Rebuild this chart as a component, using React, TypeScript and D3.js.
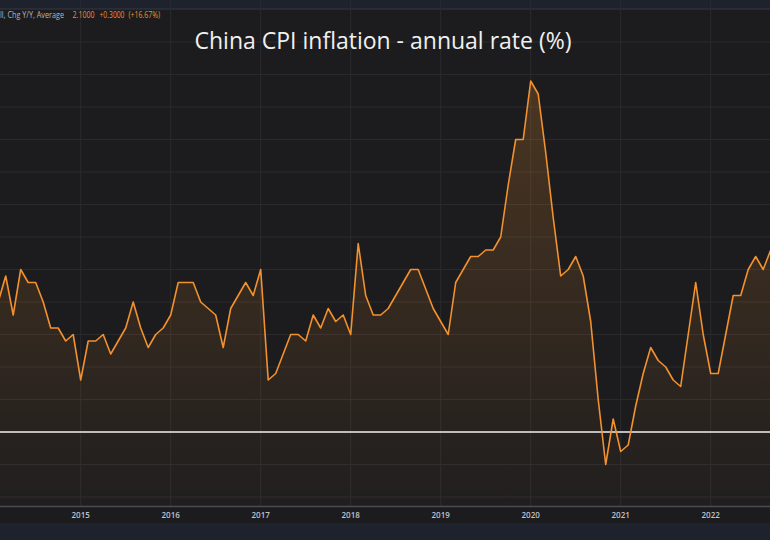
import React from "react";
import * as d3 from "d3";

// ---- data (monthly China CPI y/y, %) ----
const startYear = 2014; // first value = Jan 2014
const cpiValues: number[] = [
  // 2014
  2.5, 2.0, 2.4, 1.8, 2.5, 2.3, 2.3, 2.0, 1.6, 1.6, 1.4, 1.5,
  // 2015
  0.8, 1.4, 1.4, 1.5, 1.2, 1.4, 1.6, 2.0, 1.6, 1.3, 1.5, 1.6,
  // 2016
  1.8, 2.3, 2.3, 2.3, 2.0, 1.9, 1.8, 1.3, 1.9, 2.1, 2.3, 2.1,
  // 2017
  2.5, 0.8, 0.9, 1.2, 1.5, 1.5, 1.4, 1.8, 1.6, 1.9, 1.7, 1.8,
  // 2018
  1.5, 2.9, 2.1, 1.8, 1.8, 1.9, 2.1, 2.3, 2.5, 2.5, 2.2, 1.9,
  // 2019
  1.7, 1.5, 2.3, 2.5, 2.7, 2.7, 2.8, 2.8, 3.0, 3.8, 4.5, 4.5,
  // 2020
  5.4, 5.2, 4.3, 3.3, 2.4, 2.5, 2.7, 2.4, 1.7, 0.5, -0.5, 0.2,
  // 2021
  -0.3, -0.2, 0.4, 0.9, 1.3, 1.1, 1.0, 0.8, 0.7, 1.5, 2.3, 1.5,
  // 2022
  0.9, 0.9, 1.5, 2.1, 2.1, 2.5, 2.7, 2.5, 2.8,
];
const yearTicks: string[] = ["2015", "2016", "2017", "2018", "2019", "2020", "2021", "2022"];
const gridValues: number[] = [-1, -0.5, 0, 0.5, 1, 1.5, 2, 2.5, 3, 3.5, 4, 4.5, 5, 5.5, 6, 6.5];
const titleText = "China CPI inflation - annual rate (%)";
const legendLabel = "ll, Chg Y/Y, Average";
const legendValues: string[] = ["2.1000", "+0.3000", "(+16.67%)"];

const W = 770;
const H = 540;
const plotTop = 8;
const plotBottom = 506;

export default function App() {
  // month index (0 = Jan 2014) -> x
  const x = d3.scaleLinear().domain([12, 108]).range([80.7, 800.7]);
  const y = d3.scaleLinear().domain([-1, 6.5]).range([497, 9.5]);

  const pts = cpiValues.map((v, i) => [i, v] as [number, number]);
  const line = d3
    .line<[number, number]>()
    .x((d) => x(d[0]))
    .y((d) => y(d[1]));
  const area = d3
    .area<[number, number]>()
    .x((d) => x(d[0]))
    .y0(plotBottom)
    .y1((d) => y(d[1]));

  const orange = "#f2912d";
  const legendOrange = "#e99433";
  const font = "'Open Sans', 'Noto Sans', sans-serif";

  const legendParts = [
    { t: legendLabel, x: 0, w: 64, c: "#b2b5be" },
    { t: legendValues[0], x: 72.5, w: 22, c: legendOrange },
    { t: legendValues[1], x: 99.5, w: 25, c: legendOrange },
    { t: legendValues[2], x: 128.5, w: 31.5, c: legendOrange },
  ];

  return (
    <svg
      width={W}
      height={H}
      style={{ position: "fixed", left: 0, top: 0, display: "block" }}
    >
      <defs>
        <linearGradient id="fillGrad" gradientUnits="userSpaceOnUse" x1="0" y1="80" x2="0" y2={plotBottom}>
          <stop offset="0" stopColor={orange} stopOpacity={0.22} />
          <stop offset="1" stopColor={orange} stopOpacity={0.02} />
        </linearGradient>
        <clipPath id="plotClip">
          <rect x={0} y={plotTop} width={W} height={plotBottom - plotTop} />
        </clipPath>
      </defs>
      {/* backgrounds */}
      <rect x={0} y={0} width={W} height={H} fill="#1c1c1e" />
      <rect x={0} y={0} width={W} height={plotTop} fill="#1e222d" />
      <line x1={0} x2={W} y1={plotTop + 0.5} y2={plotTop + 0.5} stroke="#2a2d35" />
      <rect x={0} y={523} width={W} height={H - 523} fill="#1e222d" />

      {/* grid */}
      <g clipPath="url(#plotClip)">
        {gridValues.map((v) => (
          <line key={"h" + v} x1={0} x2={W} y1={y(v)} y2={y(v)} stroke="#2a2a2d" strokeWidth={1} />
        ))}
        {yearTicks.map((t, k) => (
          <line key={"v" + t} x1={x(12 + 12 * k)} x2={x(12 + 12 * k)} y1={plotTop} y2={plotBottom} stroke="#2a2a2d" strokeWidth={1} />
        ))}
      </g>
      {/* top strip grid continuation */}
      {yearTicks.map((t, k) => (
        <line key={"vt" + t} x1={x(12 + 12 * k)} x2={x(12 + 12 * k)} y1={0} y2={plotTop} stroke="#262a35" strokeWidth={1} />
      ))}

      <g clipPath="url(#plotClip)">
        <path d={area(pts) || ""} fill="url(#fillGrad)" />
        <line x1={0} x2={W} y1={y(0)} y2={y(0)} stroke="#f0f0f0" strokeWidth={1.6} />
        <path d={line(pts) || ""} fill="none" stroke={orange} strokeWidth={1.6} strokeLinejoin="round" />
      </g>

      {/* x axis */}
      <line x1={0} x2={W} y1={plotBottom + 0.5} y2={plotBottom + 0.5} stroke="#4a4c52" strokeWidth={1.5} />
      {yearTicks.map((t, k) => (
        <text
          key={"l" + t}
          x={x(12 + 12 * k)}
          y={518}
          textAnchor="middle"
          fill="#c0c3ca"
          fontSize={8}
          fontWeight={600}
          fontFamily={font}
        >
          {t}
        </text>
      ))}

      {/* legend */}
      {legendParts.map((p) => (
        <text
          key={p.t}
          x={p.x}
          y={18}
          fontSize={8.5}
          fontFamily={font}
          fill={p.c}
          textLength={p.w}
          lengthAdjust="spacingAndGlyphs"
        >
          {p.t}
        </text>
      ))}

      {/* title */}
      <text x={383} y={49} textAnchor="middle" fontSize={23} fontFamily={font} fill="#f0f0f0">
        {titleText}
      </text>
    </svg>
  );
}
